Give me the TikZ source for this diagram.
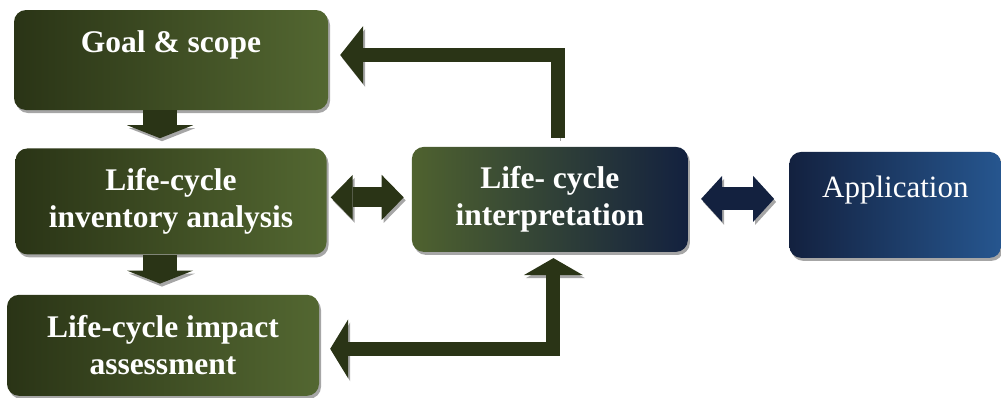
\documentclass[tikz,border=0pt]{standalone}
\usepackage{fontspec}
\setmainfont{Liberation Serif}
\usepackage{tikz}
\usetikzlibrary{arrows.meta,positioning,shadows}
\definecolor{LCAdark}{HTML}{2A3416}
\definecolor{LCAolive}{HTML}{536731}
\definecolor{LCAnavy}{HTML}{13213F}
\definecolor{LCAblue}{HTML}{26568F}
\definecolor{LCAshadow}{HTML}{A6A6A6}
\tikzset{
  lca/stage/.style={rounded corners=12pt, text=white, align=center, inner sep=0pt,
    font=\fontsize{31.5}{37}\selectfont\bfseries,
    drop shadow={shadow xshift=2pt, shadow yshift=-3pt, fill=LCAshadow, opacity=1}},
  lca/green/.style={lca/stage, left color=LCAdark, right color=LCAolive},
  lca/interp/.style={lca/stage, left color=LCAolive!95!black, right color=LCAnavy},
  lca/app/.style={lca/stage, left color=LCAnavy, right color=LCAblue, font=\fontsize{31}{37}\selectfont},
  lca/block/.style={draw=LCAdark, line join=miter,
    preaction={draw=LCAshadow, transform canvas={xshift=2pt, yshift=-3pt}}},
  lca/bluearr/.style={lca/block, draw=LCAnavy}
}

\begin{document}
\begin{tikzpicture}[x=1pt, y=1pt]
\useasboundingbox (0,0) rectangle (1001,-397);
\node[lca/green, minimum width=314pt, minimum height=100pt] (goal) at (171,-60) {Goal \& scope\\~};
\node[lca/green, minimum width=311pt, minimum height=106pt, below=38pt of goal] (lci) {Life-cycle\\inventory analysis};
\node[lca/green, minimum width=312pt, minimum height=101pt, below=40pt of lci, xshift=-8pt] (lcia) {Life-cycle impact\\assessment};
\node[lca/interp, minimum width=276pt, minimum height=105pt, right=85pt of lci, yshift=2pt] (interp) {Life- cycle\\interpretation};
\node[lca/app, minimum width=212pt, minimum height=106pt, right=101pt of interp, yshift=-5.5pt] (app) {Application\\~};
% downward steps
\draw[lca/block, line width=34pt, -{Triangle[width=66pt, length=13pt, line width=0pt]}]
  ([xshift=-11pt]goal.south) -- ([xshift=-11pt, yshift=10pt]lci.north);
\draw[lca/block, line width=34pt, -{Triangle[width=66pt, length=13pt, line width=0pt]}]
  ([xshift=-11pt]lci.south) -- ([xshift=-3pt, yshift=11pt]lcia.north);
% two-way links
\draw[lca/block, line width=20pt, {Triangle[width=45pt, length=22pt, line width=0pt]}-{Triangle[width=45pt, length=22pt, line width=0pt]}]
  ([xshift=4pt, yshift=4pt]lci.east) -- ([xshift=-8pt, yshift=2pt]interp.west);
\draw[lca/bluearr, line width=23pt, {Triangle[width=46pt, length=21pt, line width=0pt]}-{Triangle[width=46pt, length=21pt, line width=0pt]}]
  ([xshift=13pt, yshift=0.5pt]interp.east) -- ([xshift=-15pt, yshift=6pt]app.west);
% feedback loops
\draw[lca/block, line width=14pt, -{Triangle[width=58pt, length=23pt, line width=0pt]}]
  ([xshift=8pt, yshift=9pt]interp.north) |- ([xshift=12pt, yshift=5pt]goal.east);
\draw[lca/block, line width=14pt, {Triangle[width=59pt, length=18pt, line width=0pt]}-{Triangle[width=59pt, length=17pt, line width=0pt]}]
  ([xshift=11pt, yshift=-3.5pt]lcia.east) -| ([xshift=3.5pt, yshift=-6pt]interp.south);
\end{tikzpicture}
\end{document}
